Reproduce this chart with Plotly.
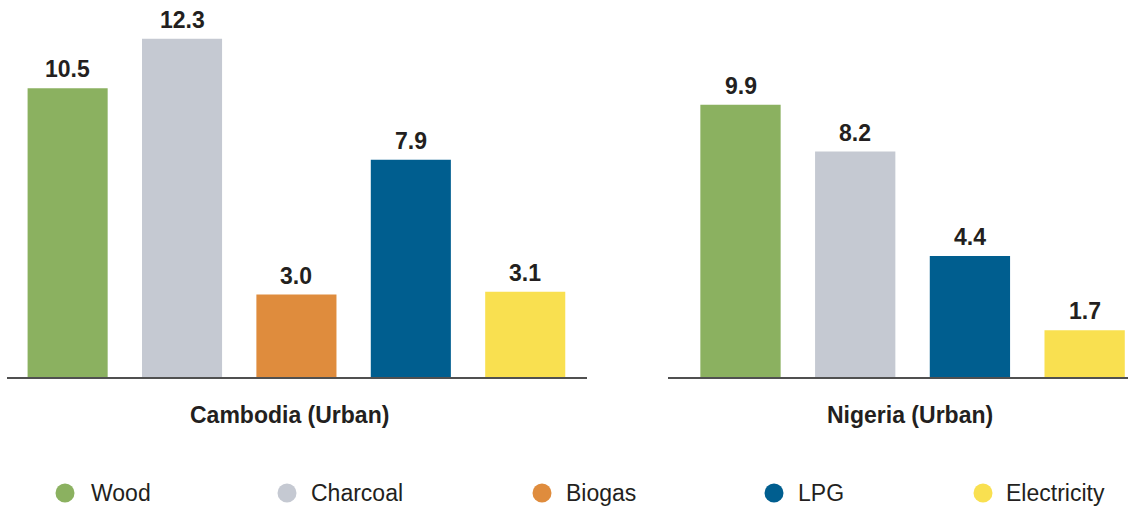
import plotly.graph_objects as go

# data
fuels = ["Wood", "Charcoal", "Biogas", "LPG", "Electricity"]
fuel_colors = ["#8BB160", "#C5C9D2", "#DF8C3D", "#005E8F", "#F9E050"]

cambodia_fuels = ["Wood", "Charcoal", "Biogas", "LPG", "Electricity"]
cambodia_values = [10.5, 12.3, 3.0, 7.9, 3.1]

nigeria_fuels = ["Wood", "Charcoal", "LPG", "Electricity"]
nigeria_values = [9.9, 8.2, 4.4, 1.7]

panel_titles = ["Cambodia (Urban)", "Nigeria (Urban)"]

W, H = 1129, 506
FONT = "Liberation Sans, Arial, sans-serif"
TEXT = "#231f20"
color_of = dict(zip(fuels, fuel_colors))

fig = go.Figure()

for cats, vals, xa, ya in [
    (cambodia_fuels, cambodia_values, "x", "y"),
    (nigeria_fuels, nigeria_values, "x2", "y2"),
]:
    fig.add_trace(
        go.Bar(
            x=cats,
            y=vals,
            xaxis=xa,
            yaxis=ya,
            width=0.70,
            marker=dict(color=[color_of[c] for c in cats], line_width=0),
            showlegend=False,
            hoverinfo="x+y",
        )
    )
    for c, v in zip(cats, vals):
        fig.add_annotation(
            x=c, y=v, xref=xa, yref=ya,
            text=f"<b>{v:.1f}</b>",
            showarrow=False,
            yanchor="middle",
            yshift=19,
            font=dict(family=FONT, size=23, color=TEXT),
        )

y_dom = [(H - 377) / H, (H - 5.75) / H]
axis_common = dict(
    showticklabels=False,
    ticks="",
    showgrid=False,
    zeroline=False,
    showline=True,
    linecolor="#505050",
    linewidth=2,
    fixedrange=True,
)
yaxis_common = dict(
    range=[0, 13.5],
    showticklabels=False,
    showgrid=False,
    zeroline=False,
    showline=False,
    fixedrange=True,
)

fig.update_layout(
    width=W,
    height=H,
    margin=dict(l=0, r=0, t=0, b=0),
    paper_bgcolor="white",
    plot_bgcolor="white",
    font=dict(family=FONT, color=TEXT),
    xaxis=dict(domain=[7 / W, 587 / W], range=[-0.53, 4.54], anchor="y", **axis_common),
    xaxis2=dict(domain=[668 / W, 1128 / W], range=[-0.632, 3.378], anchor="y2", **axis_common),
    yaxis=dict(domain=y_dom, anchor="x", **yaxis_common),
    yaxis2=dict(domain=y_dom, anchor="x2", **yaxis_common),
)

# panel titles
for title, cx in zip(panel_titles, [289, 910]):
    fig.add_annotation(
        x=cx / W, y=(H - 415) / H, xref="paper", yref="paper",
        text=f"<b>{title}</b>", showarrow=False,
        xanchor="center", yanchor="middle",
        font=dict(family=FONT, size=23, color=TEXT),
    )

# legend drawn by hand (uneven spacing in the original)
legend_dot_x = [65, 287, 542, 774, 983]
legend_text_x = [89, 309, 564, 796, 1004]
legend_y = 493
r = 9.5
for name, col, dx, tx in zip(fuels, fuel_colors, legend_dot_x, legend_text_x):
    fig.add_shape(
        type="circle", xref="paper", yref="paper",
        x0=(dx - r) / W, x1=(dx + r) / W,
        y0=(H - legend_y - r) / H, y1=(H - legend_y + r) / H,
        fillcolor=col, line_width=0,
    )
    fig.add_annotation(
        x=tx / W, y=(H - legend_y) / H, xref="paper", yref="paper",
        text=name, showarrow=False, xanchor="left", yanchor="middle",
        font=dict(family=FONT, size=23, color=TEXT),
    )

fig.write_html(
    "out.html",
    config=dict(displayModeBar=False),
    post_script="document.body.style.margin='0';document.body.style.overflow='hidden';",
)
